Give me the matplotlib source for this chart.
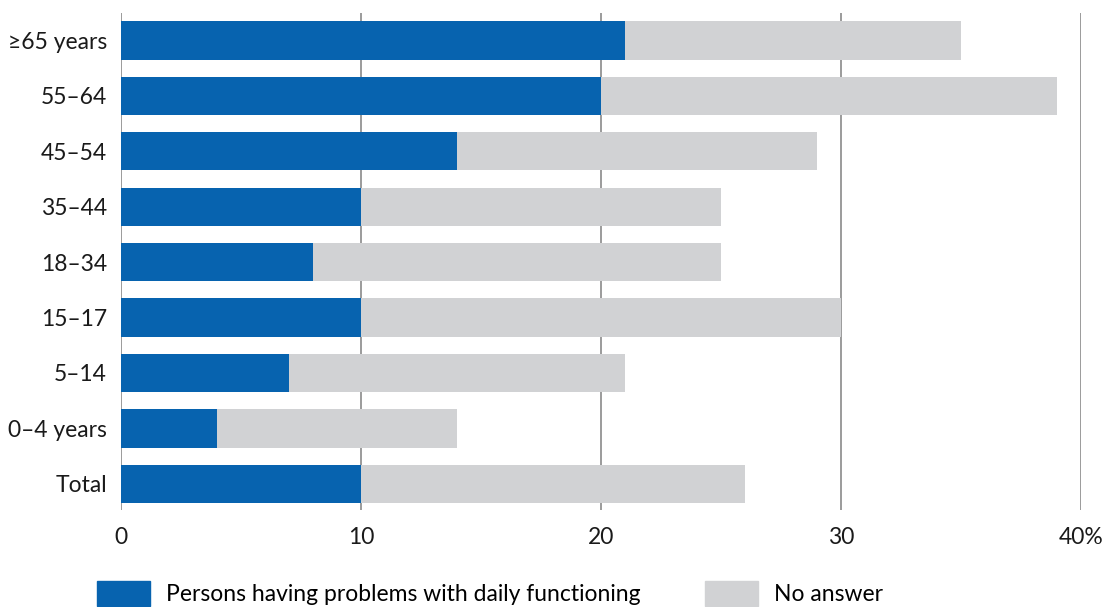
import matplotlib
matplotlib.use("Agg")
import matplotlib.pyplot as plt
from matplotlib.patches import Patch

plt.rcParams["font.family"] = ["Lato", "DejaVu Sans"]

groups = ["Total", "0\u20134 years", "5\u201314", "15\u201317", "18\u201334",
          "35\u201344", "45\u201354", "55\u201364", "\u226565 years"]
problems = [10, 4, 7, 10, 8, 10, 14, 20, 21]
no_answer = [16, 10, 14, 20, 17, 15, 15, 19, 14]
xticks = [0, 10, 20, 30, 40]
xlabels = ["0", "10", "20", "30", "40%"]

BLUE = "#0763AF"
GREY = "#D1D2D4"
GRID = "#8A8A8A"
FS = 16.5

fig = plt.figure(figsize=(11.2, 6.07), dpi=100)
ax = fig.add_axes([0.108, 0.160, 0.857, 0.819])

y = range(len(groups))
ax.barh(y, problems, height=0.69, color=BLUE, zorder=3)
ax.barh(y, no_answer, left=problems, height=0.69, color=GREY, zorder=3)

ax.set_xlim(0, 40)
ax.set_ylim(-0.47, 8.5)
ax.set_xticks(xticks)
ax.set_xticklabels(xlabels)
ax.set_yticks(list(y))
ax.set_yticklabels(groups)
ax.tick_params(axis="both", length=0, labelsize=FS, colors="#1a1a1a")
ax.tick_params(axis="x", pad=12)
ax.tick_params(axis="y", pad=10)
ax.xaxis.grid(True, color=GRID, lw=1.2, zorder=0)
for s in ax.spines.values():
    s.set_visible(False)

handles = [Patch(color=BLUE, label="Persons having problems with daily functioning"),
           Patch(color=GREY, label="No answer")]
fig.legend(handles=handles, loc="upper left", bbox_to_anchor=(0.087, 0.043),
           ncol=2, frameon=False, fontsize=FS, handlelength=2.3,
           handleheight=1.3, handletextpad=0.7, columnspacing=2.8,
           borderpad=0, borderaxespad=0)

fig.savefig("out.png", dpi=100, facecolor="white")
